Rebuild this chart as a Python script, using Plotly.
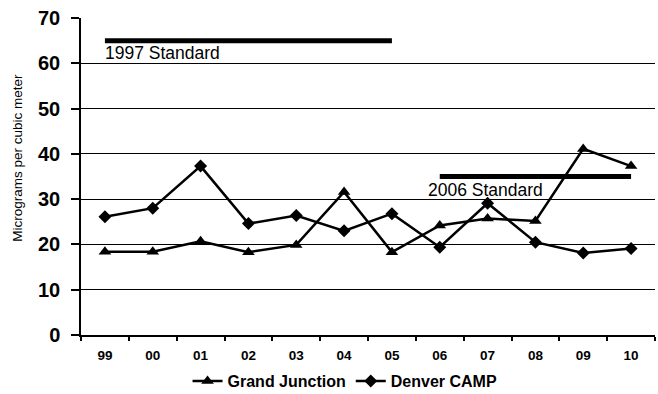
import plotly.graph_objects as go

# Annual values in micrograms per cubic meter
years = ["99", "00", "01", "02", "03", "04", "05", "06", "07", "08", "09", "10"]
grand_junction = [18.4, 18.4, 20.7, 18.3, 19.9, 31.6, 18.3, 24.2, 25.7, 25.2, 41.1, 37.3]
denver_camp = [26.1, 28.0, 37.3, 24.6, 26.4, 23.0, 26.8, 19.4, 29.1, 20.5, 18.1, 19.1]

std_1997_years = ["99", "05"]
std_1997_value = [65, 65]
std_2006_years = ["06", "10"]
std_2006_value = [35, 35]

y_ticks = [0, 10, 20, 30, 40, 50, 60, 70]

FONT = "Liberation Sans, Arial, sans-serif"

fig = go.Figure()

fig.add_trace(go.Scatter(
    x=std_1997_years, y=std_1997_value, mode="lines",
    line=dict(color="black", width=5), showlegend=False, hoverinfo="skip"))
fig.add_trace(go.Scatter(
    x=std_2006_years, y=std_2006_value, mode="lines",
    line=dict(color="black", width=5), showlegend=False, hoverinfo="skip"))

fig.add_trace(go.Scatter(
    x=years, y=grand_junction, mode="lines+markers", name="Grand Junction",
    line=dict(color="black", width=2.5),
    marker=dict(symbol="triangle-up", size=11, color="black")))
fig.add_trace(go.Scatter(
    x=years, y=denver_camp, mode="lines+markers", name="Denver CAMP",
    line=dict(color="black", width=2.5),
    marker=dict(symbol="diamond", size=10, color="black")))

# Category positions (index) for the standard labels
fig.add_annotation(x=years.index(std_1997_years[0]), y=62.3, text="1997 Standard",
                   showarrow=False, xanchor="left", yanchor="middle", xshift=-2,
                   font=dict(family=FONT, size=17.5, color="black"))
fig.add_annotation(x=years.index(std_2006_years[0]), y=32.0, text="2006 Standard",
                   showarrow=False, xanchor="left", yanchor="middle", xshift=-14,
                   font=dict(family=FONT, size=17.5, color="black"))

fig.add_annotation(xref="paper", yref="paper", x=-0.112, y=0.558,
                   text="Micrograms per cubic meter", showarrow=False,
                   textangle=-90, xanchor="center", yanchor="middle",
                   font=dict(family=FONT, size=13.5, color="black"))

fig.update_layout(
    width=658, height=394,
    margin=dict(l=81, r=3, t=18, b=59, autoexpand=False),
    paper_bgcolor="white", plot_bgcolor="white",
    font=dict(family=FONT, color="black"),
    showlegend=True,
    legend=dict(orientation="h", x=0.46, xanchor="center",
                yref="container", y=0.033, yanchor="middle", itemwidth=30,
                font=dict(family=FONT, size=16, color="black", weight="bold"),
                bgcolor="rgba(0,0,0,0)"),
    xaxis=dict(
        type="category", categoryorder="array", categoryarray=years,
        range=[-0.5, len(years) - 0.5], automargin=False,
        showline=True, linecolor="black", linewidth=1.5,
        ticks="outside", tickson="boundaries", ticklen=4, tickwidth=1.5,
        tickcolor="black", showgrid=False,
        tickfont=dict(family=FONT, size=13.5, color="black", weight="bold"),
        ticklabelstandoff=7),
    yaxis=dict(
        range=[0, 70], tickvals=y_ticks, automargin=False,
        showline=True, linecolor="black", linewidth=1.5,
        ticks="outside", ticklen=8, tickwidth=1.5, tickcolor="black",
        showgrid=True, gridcolor="black", gridwidth=1.3,
        zeroline=False,
        tickfont=dict(family=FONT, size=20, color="black", weight="bold"),
        ticklabelstandoff=7),
)

fig.write_html("out.html")
